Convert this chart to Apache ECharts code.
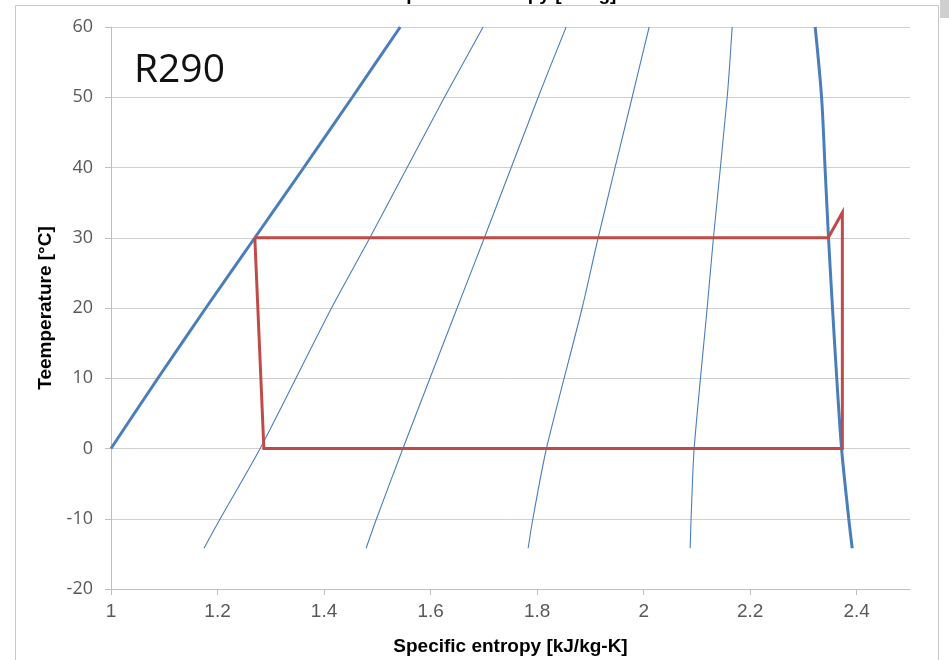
<!DOCTYPE html>
<html>
<head>
<meta charset="utf-8">
<script src="https://cdn.jsdelivr.net/npm/echarts@6/dist/echarts.min.js"></script>
<style>html,body{margin:0;padding:0;background:#fff;}#c{width:949px;height:660px;}</style>
</head>
<body>
<div id="c"></div>
<script>
// Saturated liquid line
const liquidT = [0, 10, 20, 30, 40, 50, 60];
const liquidS = [1.0, 1.088, 1.178, 1.270, 1.362, 1.453, 1.543];
// Saturated vapour line
const vaporT = [-14.2, -10, 0, 10, 20, 30, 40, 50, 60];
const vaporS = [2.3915, 2.385, 2.3715, 2.3625, 2.3545, 2.347, 2.3405, 2.334, 2.322];
// Constant-enthalpy lines (temperatures shared)
const isoT = [-14.2, -10, 0, 20, 30, 50, 60];
const iso1S = [1.1746, 1.205, 1.280, 1.414, 1.486, 1.626, 1.6986];
const iso2S = [1.4789, 1.4985, 1.548, 1.6498, 1.701, 1.8019, 1.8545];
const iso3S = [1.7831, 1.792, 1.8175, 1.8845, 1.9146, 1.9784, 2.0103];
const iso4S = [2.0873, 2.089, 2.0948, 2.1192, 2.131, 2.1568, 2.1662];
// Refrigeration cycle
const cycleS = [1.270, 1.287, 2.373, 2.373, 2.3465, 1.270];
const cycleT = [30, 0, 0, 33.6, 30, 30];
// Axis ticks
const xTicks = [1, 1.2, 1.4, 1.6, 1.8, 2, 2.2, 2.4];

const pairs = (s, t) => s.map((v, i) => [v, t[i]]);
const BLUE = '#4a7ebb', RED = '#be4b48';
const thin = (s) => ({type: 'line', data: pairs(s, isoT), symbol: 'none', smooth: 0.25, lineStyle: {color: BLUE, width: 1.1}, z: 2});
const NARROW = '"Liberation Sans Narrow", "Liberation Sans", sans-serif';

const chart = echarts.init(document.getElementById('c'), null, {renderer: 'canvas'});
chart.setOption({
  animation: false,
  backgroundColor: '#ffffff',
  grid: {left: 111, right: 39, top: 27, bottom: 71, containLabel: false, outerBoundsMode: 'none'},
  graphic: [
    {type: 'rect', shape: {x: 15.5, y: 5.5, width: 923, height: 700}, style: {fill: 'none', stroke: '#c8c8c8', lineWidth: 1}, z: -10},
    {type: 'rect', shape: {x: 940, y: 0, width: 9, height: 18}, style: {fill: '#cfcfcf'}, z: -10},
    {type: 'text', x: 505, y: -5, style: {text: 'Specific enthalpy [kJ/kg]', font: 'bold 19px ' + NARROW, fill: '#000', textAlign: 'center', textVerticalAlign: 'middle'}},
    {type: 'text', x: 134, y: 71, style: {text: 'R290', font: '39px "Open Sans", sans-serif', fill: '#111', textAlign: 'left', textVerticalAlign: 'middle'}}
  ],
  xAxis: {
    type: 'value', min: 1, max: 2.5, interval: 0.2,
    name: 'Specific entropy [kJ/kg-K]', nameLocation: 'middle', nameGap: 48,
    nameTextStyle: {fontFamily: NARROW, fontWeight: 'bold', fontSize: 19, color: '#000'},
    axisLine: {show: true, onZero: false, lineStyle: {color: '#bfbfbf', width: 1}},
    axisTick: {show: true, length: 6, lineStyle: {color: '#bfbfbf'}, customValues: xTicks},
    axisLabel: {customValues: xTicks, margin: 13, color: '#595959', fontSize: 19, fontFamily: NARROW, formatter: v => String(v)},
    splitLine: {show: false}
  },
  yAxis: {
    type: 'value', min: -20, max: 60, interval: 10,
    name: 'Teemperature [°C]', nameLocation: 'middle', nameGap: 55,
    nameTextStyle: {fontFamily: NARROW, fontWeight: 'bold', fontSize: 19, color: '#000'},
    axisLine: {show: true, onZero: false, lineStyle: {color: '#bfbfbf', width: 1}},
    axisTick: {show: true, length: 6, lineStyle: {color: '#bfbfbf'}},
    axisLabel: {margin: 18, color: '#595959', fontSize: 18, fontFamily: '"Open Sans", sans-serif'},
    splitLine: {show: true, lineStyle: {color: '#d0d0d0', width: 1}}
  },
  series: [
    thin(iso1S), thin(iso2S), thin(iso3S), thin(iso4S),
    {type: 'line', data: pairs(liquidS, liquidT), symbol: 'none', smooth: 0.2, lineStyle: {color: BLUE, width: 3}, z: 3},
    {type: 'line', data: pairs(vaporS, vaporT), symbol: 'none', smooth: 0.3, lineStyle: {color: BLUE, width: 3}, z: 3},
    {type: 'line', data: pairs(cycleS, cycleT), symbol: 'none', lineStyle: {color: RED, width: 3, join: 'miter'}, z: 4}
  ]
});
</script>
</body>
</html>
